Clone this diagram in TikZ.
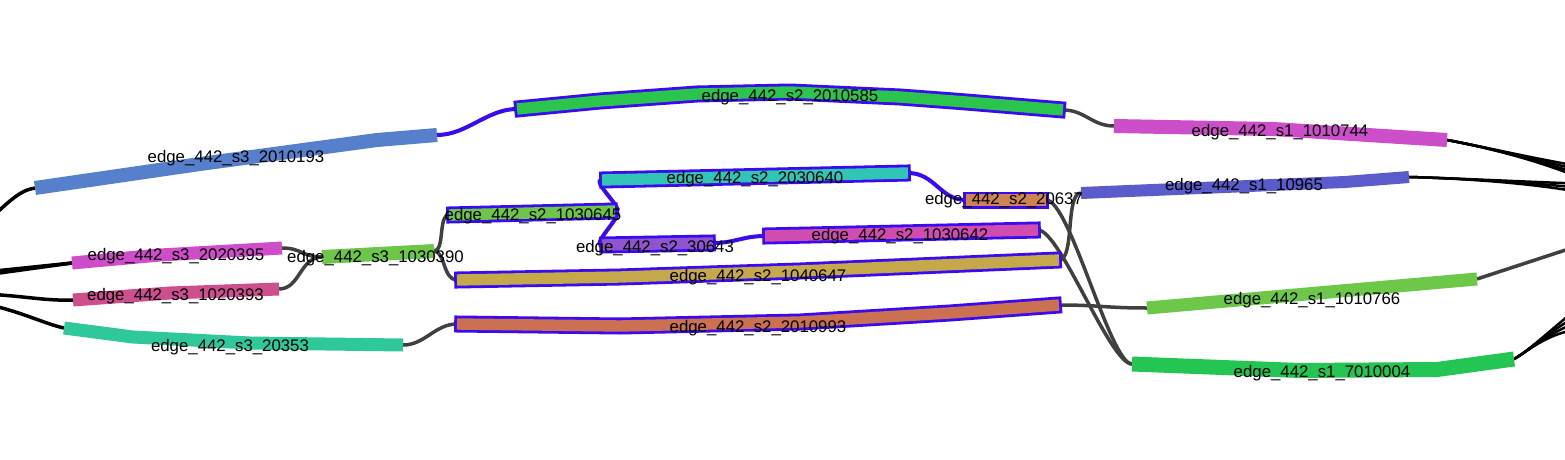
\documentclass[tikz,border=0pt]{standalone}
\usepackage{fontspec}
\setmainfont{Liberation Sans}
\definecolor{bblue}{RGB}{58,10,242}
\definecolor{cgray}{HTML}{404040}
\definecolor{cA}{HTML}{5680CB}
\definecolor{cB}{HTML}{2BC44C}
\definecolor{cC}{HTML}{CC4EC8}
\definecolor{cD}{HTML}{30C5B5}
\definecolor{cE}{HTML}{CD8452}
\definecolor{cF}{HTML}{5B5BCB}
\definecolor{cG}{HTML}{6DC647}
\definecolor{cH}{HTML}{D04DC9}
\definecolor{cI}{HTML}{6DC647}
\definecolor{cJ}{HTML}{8F55CF}
\definecolor{cK}{HTML}{D04DAF}
\definecolor{cL}{HTML}{C4A84A}
\definecolor{cM}{HTML}{CE4F8E}
\definecolor{cN}{HTML}{6DC84A}
\definecolor{cO}{HTML}{CB7050}
\definecolor{cP}{HTML}{2EC89B}
\definecolor{cQ}{HTML}{24C553}
\tikzset{
  conn/.style={line width=3.5pt, draw=cgray},
  bconn/.style={line width=4pt, draw=bblue},
  kconn/.style={line width=3.5pt, draw=black},
  band/.style={line width=14pt, line cap=butt, line join=round},
  obox/.style={draw=bblue, line width=17pt, line cap=butt, line join=round, shorten <=-2.8pt, shorten >=-2.8pt},
  ibox/.style={line width=11.4pt, line cap=butt, line join=round},
  lbl/.style={font=\fontsize{16.8}{20}\selectfont, inner sep=0pt, text=black},
}
\begin{document}
\begin{tikzpicture}[x=1pt,y=-1pt]
\clip (0,0) rectangle (1565,460);
\fill[white] (0,0) rectangle (1565,460);
% band end points
\coordinate (aL) at (35,188);   \coordinate (aR) at (437,135);
\coordinate (bL) at (517,109);  \coordinate (bR) at (1063,110);
\coordinate (cL) at (1114,126); \coordinate (cR) at (1447,140);
\coordinate (dL) at (602,180);  \coordinate (dR) at (908,173);
\coordinate (eL) at (966,200);  \coordinate (eR) at (1046,200);
\coordinate (fL) at (1081,193); \coordinate (fR) at (1409,177);
\coordinate (gL) at (449,215);  \coordinate (gR) at (615,211);
\coordinate (hL) at (72,263);   \coordinate (hR) at (282,248);
\coordinate (iL) at (322,257);  \coordinate (iR) at (434,251);
\coordinate (jL) at (602,245);  \coordinate (jR) at (713,243);
\coordinate (kL) at (765,236);  \coordinate (kR) at (1038,230);
\coordinate (lL) at (457,280);  \coordinate (lR) at (1059,260);
\coordinate (mL) at (73,300);   \coordinate (mR) at (279,289);
\coordinate (nL) at (1147,308); \coordinate (nR) at (1477,279);
\coordinate (oL) at (457,324);  \coordinate (oR) at (1059,305);
\coordinate (pL) at (64,328);   \coordinate (pR) at (403,345);
\coordinate (qL) at (1132,364); \coordinate (qR) at (1514,359);
% off-canvas ends
\coordinate (x1) at (-15,224); \coordinate (x2) at (-15,272); \coordinate (x3) at (-15,275);
\coordinate (x4) at (-15,294); \coordinate (x5) at (-15,304);
\coordinate (y1) at (1590,168); \coordinate (y2) at (1590,173); \coordinate (y3) at (1590,178); \coordinate (y4) at (1590,182);
\coordinate (y5) at (1590,184); \coordinate (y6) at (1590,189); \coordinate (y7) at (1590,194);
\coordinate (y8) at (1590,242);
\coordinate (y9) at (1590,298); \coordinate (y10) at (1590,308); \coordinate (y11) at (1590,318); \coordinate (y12) at (1590,328);
% connectors to outside
\draw[kconn] (aL) .. controls (20,190) and (8,202) .. (x1);
\draw[kconn] (hL) -- (x2);
\draw[kconn] (hL) -- (x3);
\draw[kconn] (mL) .. controls (45,301) and (25,296) .. (x4);
\draw[kconn] (pL) .. controls (45,324) and (20,311) .. (x5);
\foreach \t in {y1,y2,y3,y4} \draw[kconn, line width=2.5pt] (cR) .. controls (1480,146) and (1540,160) .. (\t);
\foreach \t in {y5,y6,y7} \draw[kconn, line width=2.5pt] (fR) .. controls (1450,178) and (1530,182) .. (\t);
\draw[conn] (nR) -- (y8);
\foreach \t in {y9,y10,y11,y12} \draw[kconn, line width=2.5pt] (qR) .. controls (1530,350) and (1550,330) .. (\t);
% connectors inside
\draw[bconn] (aR) .. controls (467,135) and (487,109) .. (bL);
\draw[conn] (bR) .. controls (1085,110) and (1092,126) .. (cL);
\draw[conn] (iR) .. controls (445,251) and (438,215) .. (gL);
\draw[conn] (iR) .. controls (445,251) and (443,280) .. (lL);
\draw[conn] (hR) .. controls (302,248) and (302,257) .. (iL);
\draw[conn] (mR) .. controls (300,289) and (300,257) .. (iL);
\draw[conn] (pR) .. controls (425,345) and (435,324) .. (oL);
\draw[bconn] (gR) .. controls (627,212) and (590,180) .. (dL);
\draw[bconn] (gR) .. controls (627,212) and (590,245) .. (jL);
\draw[bconn] (jR) .. controls (735,243) and (743,236) .. (kL);
\draw[bconn] (dR) .. controls (935,173) and (940,200) .. (eL);
\draw[conn] (lR) .. controls (1075,260) and (1065,193) .. (fL);
\draw[conn] (eR) .. controls (1070,200) and (1110,364) .. (qL);
\draw[conn] (kR) .. controls (1060,230) and (1110,364) .. (qL);
\draw[conn] (oR) .. controls (1100,305) and (1105,308) .. (nL);
% plain bands
\draw[band, draw=cA] (aL) -- (200,164) -- (377,140) -- (aR);
\draw[band, draw=cC] (cL) -- (1273,129) -- (cR);
\draw[band, draw=cF, line width=12pt] (fL) -- (1345,182) -- (fR);
\draw[band, draw=cH, line width=13pt] (hL) -- (160,255) -- (hR);
\draw[band, draw=cI] (iL) -- (iR);
\draw[band, draw=cM, line width=13pt] (mL) -- (170,293) -- (mR);
\draw[band, draw=cN, line width=13pt] (nL) -- (nR);
\draw[band, draw=cP, line width=13pt] (pL) -- (133,337) -- (250,343) -- (pR);
\draw[band, draw=cQ, line width=15pt] (qL) -- (1300,370.5) -- (1437,369.5) -- (qR);
% outlined bands
\draw[obox] (bL) -- (600,101) -- (697,94) -- (790,92) -- (900,97) -- (960,101.5) -- (bR);
\draw[ibox, draw=cB] (bL) -- (600,101) -- (697,94) -- (790,92) -- (900,97) -- (960,101.5) -- (bR);
\draw[obox] (dL) -- (dR);
\draw[ibox, draw=cD] (dL) -- (dR);
\draw[obox] (eL) -- (eR);
\draw[ibox, draw=cE] (eL) -- (eR);
\draw[obox] (gL) -- (gR);
\draw[ibox, draw=cG] (gL) -- (gR);
\draw[obox] (jL) -- (jR);
\draw[ibox, draw=cJ] (jL) -- (jR);
\draw[obox] (kL) -- (kR);
\draw[ibox, draw=cK] (kL) -- (kR);
\draw[obox] (lL) -- (620,277) -- (800,271) -- (lR);
\draw[ibox, draw=cL] (lL) -- (620,277) -- (800,271) -- (lR);
\draw[obox] (oL) -- (620,326) -- (800,322) -- (950,313) -- (oR);
\draw[ibox, draw=cO] (oL) -- (620,326) -- (800,322) -- (950,313) -- (oR);
% labels
\node[lbl] (ta) at (236,158) {edge\_442\_s3\_2010193};
\node[lbl] (tb) at (790,97) {edge\_442\_s2\_2010585};
\node[lbl] (tc) at (1280,132) {edge\_442\_s1\_1010744};
\node[lbl] (td) at (755,179) {edge\_442\_s2\_2030640};
\node[lbl] (te) at (1004,200) {edge\_442\_s2\_20637};
\node[lbl] (tf) at (1244,186) {edge\_442\_s1\_10965};
\node[lbl] (tg) at (533,216) {edge\_442\_s2\_1030645};
\node[lbl] (th) at (176,256) {edge\_442\_s3\_2020395};
\node[lbl] (ti) at (375.5,258) {edge\_442\_s3\_1030390};
\node[lbl] (tj) at (655,248) {edge\_442\_s2\_30643};
\node[lbl] (tk) at (900,236) {edge\_442\_s2\_1030642};
\node[lbl] (tl) at (758,277) {edge\_442\_s2\_1040647};
\node[lbl] (tm) at (175.5,296) {edge\_442\_s3\_1020393};
\node[lbl] (tn) at (1312,300) {edge\_442\_s1\_1010766};
\node[lbl] (to) at (758,328) {edge\_442\_s2\_2010993};
\node[lbl] (tp) at (230,347) {edge\_442\_s3\_20353};
\node[lbl] (tq) at (1322,373) {edge\_442\_s1\_7010004};
\end{tikzpicture}
\end{document}
